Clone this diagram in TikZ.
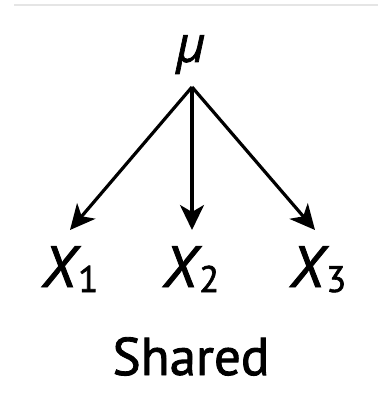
\documentclass[tikz,border=0pt]{standalone}
\usepackage{fontspec}
\setmainfont{PT Sans}[FakeBold=1.6,ItalicFeatures={FakeBold=1.6}]
\newfontfamily\greekfont{Open Sans}[FakeBold=1.4,ItalicFeatures={FakeBold=1.4}]
\usetikzlibrary{arrows.meta}
\begin{document}
\begin{tikzpicture}[x=1pt,y=-1pt,
  lbl/.style={inner sep=0pt,outer sep=0pt},
  varlbl/.style={lbl,anchor=base west,font=\fontsize{58}{60}\selectfont\itshape},
  edge/.style={line width=3.2pt,-{Stealth[length=25pt,width=24pt,inset=7pt]}}]
\useasboundingbox (0,0) rectangle (378,412);
\draw[black!10,line width=1.2pt] (14,5) -- (378,5);
\node[lbl,anchor=base] (mu) at (191,62) {\fontsize{50}{52}\selectfont\greekfont\itshape μ};
\node[varlbl] (x1) at (42,287) {X\kern2pt\raisebox{-5pt}{\fontsize{37}{39}\selectfont\upshape 1}};
\node[varlbl] (x2) at (163,287) {X\kern2pt\raisebox{-5pt}{\fontsize{37}{39}\selectfont\upshape 2}};
\node[varlbl] (x3) at (290,287) {X\kern2pt\raisebox{-5pt}{\fontsize{37}{39}\selectfont\upshape 3}};
\node[lbl,anchor=base] (shared) at (191,375) {\fontsize{53}{55}\selectfont Shared};
\coordinate (top) at (192,87);
\coordinate (t1) at (70,230);
\coordinate (t2) at (192,230);
\coordinate (t3) at (315,230);
\draw[edge] (top) -- (t1);
\draw[edge] (top) -- (t2);
\draw[edge] (top) -- (t3);
\end{tikzpicture}
\end{document}
